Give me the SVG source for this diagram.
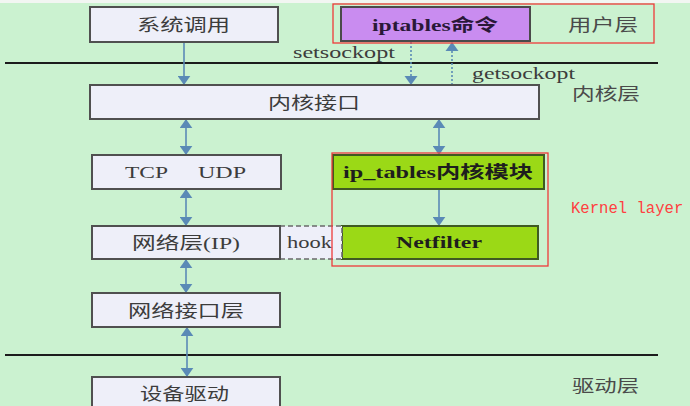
<svg xmlns="http://www.w3.org/2000/svg" width="690" height="406" viewBox="0 0 690 406">
<style>
.bg{fill:#cbf2d0}
.box{fill:#eeeff9;stroke:#505050;stroke-width:2}
.purple{fill:#c98cf0;stroke:#4a4a4a;stroke-width:2}
.green{fill:#9bd916;stroke:#3f5a22;stroke-width:2}
.hook{fill:#eeeff9;stroke:#6a6a6a;stroke-width:1.6;stroke-dasharray:5,3}
.sep{stroke:#1c1c1c;stroke-width:2.2}
.red{fill:none;stroke:#ee3a3a;stroke-width:1.3}
.t{font-family:"Liberation Serif","Noto Sans CJK SC",serif;font-size:17px;fill:#3c3c3c}
.tb{font-family:"Liberation Serif","Noto Sans CJK SC",serif;font-size:17px;font-weight:bold;fill:#1e1e1e}
.lay{font-family:"Liberation Serif","Noto Sans CJK SC",serif;font-size:17px;fill:#4a4a4a}
.mono{font-family:"Liberation Mono",monospace;font-size:15.6px;fill:#ff4040}
.c{stroke:#5a8ab6;stroke-width:1.6;fill:none}
.d{stroke-dasharray:2,2}
.head{fill:#5a8ab6}
</style>
<defs>
<marker id="ah" viewBox="0 0 10 14" refX="10" refY="7" markerUnits="userSpaceOnUse" markerWidth="9" markerHeight="13" orient="auto-start-reverse">
<path d="M0,0 L10,7 L0,14 z" fill="#5a8ab6"/>
</marker>
</defs>
<rect class="bg" x="0" y="0" width="690" height="406"/>
<rect x="0" y="0" width="690" height="3" fill="#f2f6f2"/>
<line class="sep" x1="5" y1="63" x2="658" y2="63"/>
<line class="sep" x1="5" y1="355" x2="658" y2="355"/>
<g id="connectors">
<line class="c" x1="184" y1="42" x2="184" y2="85" marker-end="url(#ah)"/>
<line class="c" x1="186" y1="119" x2="186" y2="155" marker-start="url(#ah)" marker-end="url(#ah)"/>
<line class="c" x1="186" y1="189" x2="186" y2="226" marker-start="url(#ah)" marker-end="url(#ah)"/>
<line class="c" x1="186" y1="259" x2="186" y2="293" marker-start="url(#ah)" marker-end="url(#ah)"/>
<line class="c" x1="187" y1="327" x2="187" y2="377" marker-start="url(#ah)" marker-end="url(#ah)"/>
<line class="c d" x1="411" y1="42" x2="411" y2="77"/>
<polygon class="head" points="404.5,76 417.5,76 411,85"/>
<line class="c d" x1="452" y1="85" x2="452" y2="50"/>
<polygon class="head" points="445.5,51 458.5,51 452,42"/>
<line class="c" x1="439" y1="119" x2="439" y2="155" marker-start="url(#ah)" marker-end="url(#ah)"/>
<line class="c" x1="439" y1="189" x2="439" y2="226" marker-end="url(#ah)"/>
</g>
<g id="syscall">
<rect class="box" x="90" y="7" width="188" height="35"/>
<text class="t" x="137" y="30.5" textLength="93" lengthAdjust="spacingAndGlyphs">系统调用</text>
</g>
<g id="iptables-cmd">
<rect class="purple" x="341" y="7" width="189" height="34"/>
<text class="tb" x="372" y="31" textLength="126" lengthAdjust="spacingAndGlyphs" style="fill:#2a1838">iptables命令</text>
</g>
<g id="kernel-if">
<rect class="box" x="90" y="85" width="449" height="34"/>
<text class="t" x="268" y="108.5" textLength="92" lengthAdjust="spacingAndGlyphs">内核接口</text>
</g>
<g id="tcpudp">
<rect class="box" x="92" y="155" width="189" height="34"/>
<text class="t" x="125" y="177.5" textLength="43" lengthAdjust="spacingAndGlyphs">TCP</text>
<text class="t" x="198" y="177.5" textLength="48" lengthAdjust="spacingAndGlyphs">UDP</text>
</g>
<g id="iptables-mod">
<rect class="green" x="333" y="155" width="211" height="34"/>
<text class="tb" x="343" y="178" textLength="190" lengthAdjust="spacingAndGlyphs">ip_tables内核模块</text>
</g>
<g id="netfilter">
<rect class="green" x="342" y="226" width="196" height="33"/>
<text class="tb" x="396" y="247.5" textLength="86" lengthAdjust="spacingAndGlyphs">Netfilter</text>
</g>
<g id="hook">
<rect class="hook" x="280" y="226" width="62" height="33"/>
<text class="t" x="287" y="248" textLength="45" lengthAdjust="spacingAndGlyphs">hook</text>
</g>
<g id="ip-layer">
<rect class="box" x="92" y="226" width="188" height="33"/>
<text class="t" x="132" y="249" textLength="108" lengthAdjust="spacingAndGlyphs">网络层(IP)</text>
</g>
<g id="netif-layer">
<rect class="box" x="92" y="293" width="188" height="34"/>
<text class="t" x="128" y="316.5" textLength="116" lengthAdjust="spacingAndGlyphs">网络接口层</text>
</g>
<g id="driver">
<rect class="box" x="92" y="377" width="188" height="40"/>
<text class="t" x="140" y="400" textLength="89" lengthAdjust="spacingAndGlyphs">设备驱动</text>
</g>
<text class="t" x="293" y="58" textLength="102" lengthAdjust="spacingAndGlyphs">setsockopt</text>
<text class="t" x="472" y="79" textLength="103" lengthAdjust="spacingAndGlyphs">getsockopt</text>
<text class="lay" x="568" y="30.5" textLength="70" lengthAdjust="spacingAndGlyphs">用户层</text>
<text class="lay" x="572" y="100" textLength="68" lengthAdjust="spacingAndGlyphs">内核层</text>
<text class="lay" x="572" y="391.5" textLength="67" lengthAdjust="spacingAndGlyphs">驱动层</text>
<rect class="red" x="333" y="4" width="321" height="39"/>
<rect class="red" x="332" y="153" width="216" height="113"/>
<text class="mono" x="571" y="213">Kernel layer</text>
</svg>
